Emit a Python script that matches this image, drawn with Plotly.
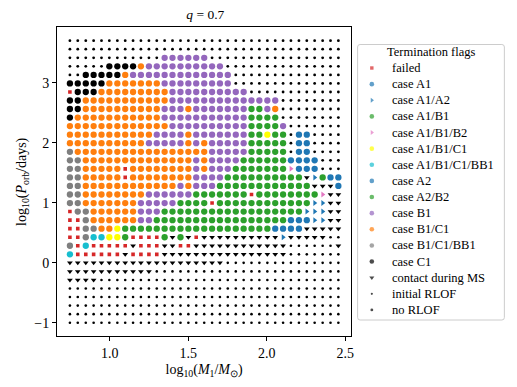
import plotly.graph_objects as go

# ---------------- data ----------------
# column centres: log10(M1/Msun)
log_m1 = [0.747, 0.797, 0.848, 0.898, 0.948, 0.998, 1.049, 1.099, 1.149, 1.199,
          1.250, 1.300, 1.350, 1.400, 1.451, 1.501, 1.551, 1.602, 1.652, 1.702,
          1.752, 1.803, 1.853, 1.903, 1.953, 2.004, 2.054, 2.104, 2.154, 2.205,
          2.255, 2.305, 2.356, 2.406, 2.456]
# row centres: log10(P_orb/days), top row first
log_porb = [3.700, 3.558, 3.415, 3.273, 3.130, 2.988, 2.845, 2.703, 2.561, 2.418,
            2.276, 2.133, 1.991, 1.848, 1.706, 1.564, 1.421, 1.279, 1.136, 0.994,
            0.852, 0.709, 0.567, 0.424, 0.282, 0.139, -0.003, -0.145, -0.288, -0.430,
            -0.573, -0.715, -0.858, -1.000]

# termination flag of every grid cell (one letter per column, groups of five)
grid_flags = [
    "..... ..... ..... ..... ..... ..... .....",
    "..... ..... ..... ..... ..... ..... .....",
    "..... ..... ..BBB BBB.. ..... ..... .....",
    "..... KKKKO BBBBB BBBBB ..... ..... .....",
    "..KKK KKOBB BBBBB BBBBB B.... ..... .....",
    "KKKKK OOOOO OOBBB BBBBB B.... ..... .....",
    "FKKKO OOOOO OOOBB BBBBB BBB.. ..... .....",
    "KKOOO OOOOO OOOBB BBBBB BBBBB BB... .....",
    "KKOOO OOOOO OOBBB OBBBB BBBGG BO... .....",
    "KOOOO OOOOO OOBBB BBBBB BBBGG GG... .....",
    "OOOOO OOOOO OOOBB BBBBB BBBGG GGB.. .....",
    "OOOOO OOOOO OBBBB OBBBB BBBGG YGG.A A....",
    "OOOOO OOOOO BBBBB OBOBB BBBGG GGG.A A....",
    "ROOOO OOOOO OOOOO OOOBB BBBGG GGG.A A....",
    "RROOO OOOOO OOOOO OBOBB BBGGG GGGAA AA...",
    "RROOO OOFOO OOOOO OBOBB BGGGG GGGPA AA...",
    "RROOO OOFOO OOOOO OBBBB GGGGG GGGGG VTGAA",
    "RROOO OOOOO OOOOB OBBBG GGGGG GGGGG GVVVA",
    "RROOO OOOOO BBBBB BGGGG GGGFG GGGGG GGPVV",
    "RROOO OOOOB BBBBG GGGFG GGGGG GGGGG GTTVV",
    "FRROO OOOOB BBGGG GGGGG GGGGG GGGGG TTTVV",
    "FFROO OOOOB BGGGG GGGGG GGGGG GGGAA ATTVV",
    "FFRRO OYGGG GGGGG GGGGG GGGGG GAAAA VVVVV",
    "FFRCC YYGFF FFGVG VFVVV VVVVV VVTVV VVV,,",
    "RFCFF FFFVF FFVVF FVVVV VVVVV VVV,, ,,,,V",
    "CFFFF FFVFF FFVVV VVVVV VVVVV VVV,, ,,,,,",
    "VVVVV VVVVV VVVVV VVVVV ,,,,, ,,,,, ,,,,,",
    "VVVVV VVVVV V,,,, ,,,,, ,,,,, ,,,,, ,,,,,",
    "VVVV, ,,,,, ,,,,, ,,,,, ,,,,, ,,,,, ,,,,,",
    ",,,,, ,,,,, ,,,,, ,,,,, ,,,,, ,,,,, ,,,,,",
    ",,,,, ,,,,, ,,,,, ,,,,, ,,,,, ,,,,, ,,,,,",
    ",,,,, ,,,,, ,,,,, ,,,,, ,,,,, ,,,,, ,,,,,",
    ",,,,, ,,,,, ,,,,, ,,,,, ,,,,, ,,,,, ,,,,,",
    ",,,,, ,,,,, ,,,,, ,,,,, ,,,,, ,,,,, ,,,,,",
]

flag_codes = ["F", "A", "T", "G", "P", "Y", "C", "a", "g", "B", "O", "R", "K", "V", ",", "."]
flag_labels = ["failed", "case A1", "case A1/A2", "case A1/B1", "case A1/B1/B2",
               "case A1/B1/C1", "case A1/B1/C1/BB1", "case A2", "case A2/B2",
               "case B1", "case B1/C1", "case B1/C1/BB1", "case C1",
               "contact during MS", "initial RLOF", "no RLOF"]

# ---------------- styles ----------------
flag_colors = ["#d62728", "#1f77b4", "#1f77b4", "#2ca02c", "#e377c2", "#ffff00",
               "#17becf", "#1f77b4", "#2ca02c", "#9467bd", "#ff7f0e", "#7f7f7f",
               "#000000", "#000000", "#000000", "#000000"]
flag_symbols = ["square", "circle", "triangle-right", "circle", "triangle-right",
                "circle", "circle", "circle", "circle", "circle", "circle", "circle",
                "circle", "triangle-down", "circle", "circle"]
plot_sizes = [3.6, 6.3, 5.2, 6.3, 5.2, 6.3, 6.3, 6.3, 6.3, 6.3, 6.3, 6.3, 6.3, 5.0, 2.6, 2.8]
legend_sizes = [3.4, 4.6, 4.2, 4.6, 4.2, 4.6, 4.6, 4.6, 4.6, 4.6, 4.6, 4.6, 4.6, 4.4, 2.2, 2.8]

W, H = 517, 387
FONT = "Liberation Serif"

rows = [r.replace(" ", "") for r in grid_flags]
for r in rows:
    if len(r) != len(log_m1):
        raise ValueError("bad row length %d: %s" % (len(r), r))

fig = go.Figure()
for code, label, color, symbol, size in zip(flag_codes, flag_labels, flag_colors,
                                            flag_symbols, plot_sizes):
    xs, ys = [], []
    for yv, row in zip(log_porb, rows):
        for xv, c in zip(log_m1, row):
            if c == code:
                xs.append(xv)
                ys.append(yv)
    fig.add_trace(go.Scatter(
        x=xs, y=ys, mode="markers", name=label, showlegend=False,
        marker=dict(symbol=symbol, color=color, size=size, line=dict(width=0)),
        xaxis="x", yaxis="y"))

# ---------------- legend (drawn in a pixel-coordinate overlay) ----------------
leg_left, leg_right, leg_top, leg_bottom = 359.7, 507.3, 44.5, 320.0
leg_marker_x, leg_text_x = 374.0, 392.5
leg_first_y, leg_step = 68.0, 16.13
leg_ys = [leg_first_y + i * leg_step for i in range(len(flag_labels))]

fig.add_trace(go.Scatter(
    x=[leg_marker_x] * len(flag_labels), y=leg_ys, mode="markers",
    marker=dict(symbol=flag_symbols, color=flag_colors, size=legend_sizes, line=dict(width=0)),
    xaxis="x2", yaxis="y2", showlegend=False, hoverinfo="skip"))

rr = 2.5
L, R, T, B = leg_left, leg_right, leg_top, leg_bottom
box_path = (f"M {L+rr},{T} L {R-rr},{T} Q {R},{T} {R},{T+rr} L {R},{B-rr} "
            f"Q {R},{B} {R-rr},{B} L {L+rr},{B} Q {L},{B} {L},{B-rr} L {L},{T+rr} "
            f"Q {L},{T} {L+rr},{T} Z")
fig.add_shape(type="path", path=box_path, xref="x2", yref="y2", layer="below",
              fillcolor="rgba(255,255,255,0.8)", line=dict(color="#cccccc", width=1))

annotations = [dict(text="Termination flags", x=(L + R) / 2, y=51.7, xref="x2", yref="y2",
                    xanchor="center", yanchor="middle", showarrow=False,
                    font=dict(family=FONT, size=12.5, color="black"))]
for lab, yv in zip(flag_labels, leg_ys):
    annotations.append(dict(text=lab, x=leg_text_x, y=yv, xref="x2", yref="y2",
                            xanchor="left", yanchor="middle", showarrow=False,
                            font=dict(family=FONT, size=12.5, color="black")))

# ---------------- layout ----------------
px_left, px_right, px_top, px_bottom = 57.3, 353.3, 27.3, 336.3
axis_common = dict(showline=True, linecolor="black", linewidth=1, mirror=True,
                   ticks="outside", ticklen=4, tickwidth=1, tickcolor="black",
                   showgrid=False, zeroline=False,
                   tickfont=dict(family=FONT, size=14, color="black"))

fig.update_layout(
    width=W, height=H,
    margin=dict(l=0, r=0, t=0, b=0),
    paper_bgcolor="white", plot_bgcolor="rgba(0,0,0,0)",
    font=dict(family=FONT, color="black"),
    title=dict(text="<i>q</i> = 0.7", x=(px_left + px_right) / 2 / W, xref="container",
               xanchor="center", y=1 - 14.5 / H, yref="container", yanchor="middle",
               font=dict(family=FONT, size=13.5, color="black")),
    xaxis=dict(domain=[px_left / W, px_right / W], range=[0.6646, 2.5380],
               tickvals=[1.0, 1.5, 2.0, 2.5], ticktext=["1.0", "1.5", "2.0", "2.5"],
               title=dict(text="log<sub>10</sub>(<i>M</i><sub>1</sub>/<i>M</i><sub>⊙</sub>)",
                          font=dict(family=FONT, size=14, color="black"), standoff=4),
               anchor="y", **axis_common),
    yaxis=dict(domain=[1 - px_bottom / H, 1 - px_top / H], range=[-1.227, 3.923],
               tickvals=[-1, 0, 1, 2, 3],
               title=dict(text="log<sub>10</sub>(<i>P</i><sub>orb</sub>/days)",
                          font=dict(family=FONT, size=14, color="black"), standoff=4),
               anchor="x", **axis_common),
    xaxis2=dict(domain=[0, 1], range=[0, W], visible=False, anchor="y2", fixedrange=True),
    yaxis2=dict(domain=[0, 1], range=[H, 0], visible=False, anchor="x2", fixedrange=True),
    annotations=annotations,
    showlegend=False,
)

fig.write_html("out.html",
               config={"displayModeBar": False},
               post_script="document.body.style.margin='0px';"
                           "document.body.style.overflow='hidden';")
